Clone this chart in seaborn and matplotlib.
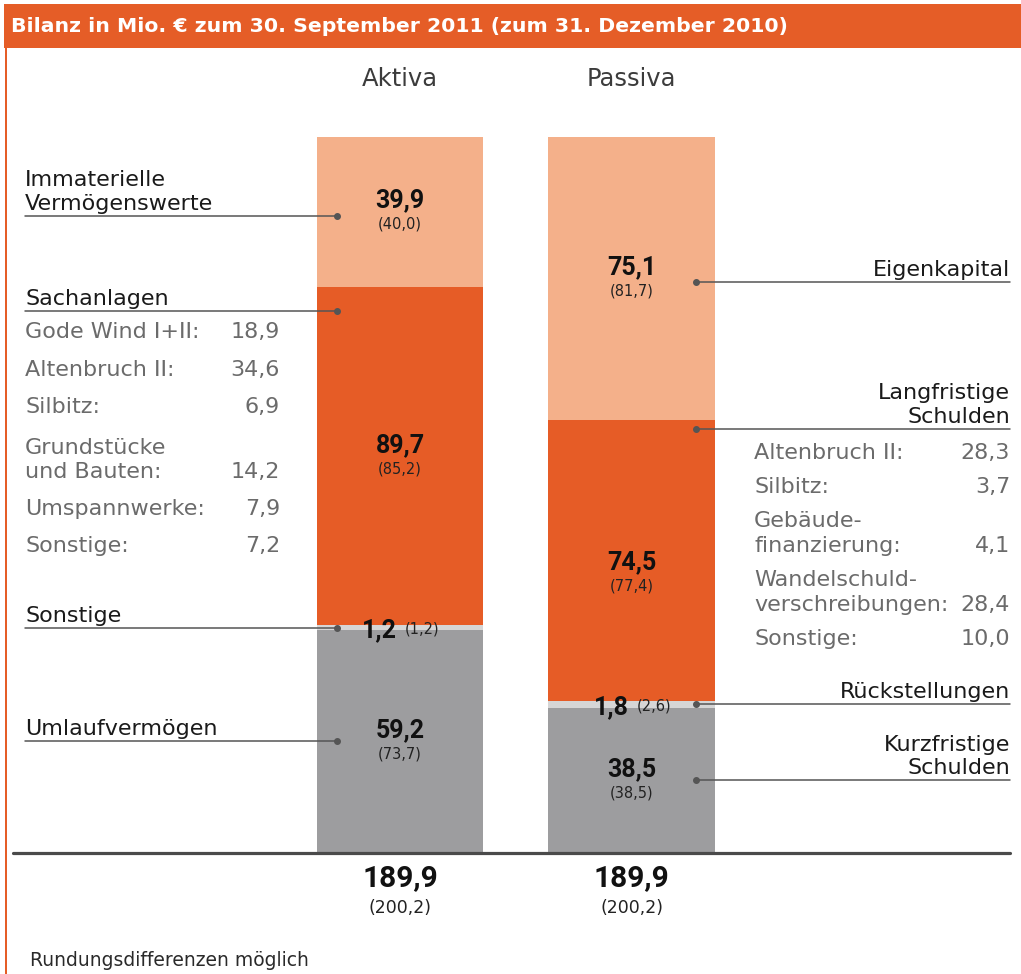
import numpy as np
import pandas as pd
import matplotlib
matplotlib.use("Agg")
import matplotlib.pyplot as plt
import matplotlib.transforms as mtransforms
import seaborn as sns

# balance sheet data (Mio. EUR), 30.09.2011 and in brackets 31.12.2010
sides = ["Aktiva", "Passiva"]
aktiva_items = ["Umlaufvermögen", "Sonstige", "Sachanlagen", "Immaterielle\nVermögenswerte"]
aktiva_values = [59.2, 1.2, 89.7, 39.9]
aktiva_prev = [73.7, 1.2, 85.2, 40.0]
passiva_items = ["Kurzfristige\nSchulden", "Rückstellungen", "Langfristige\nSchulden", "Eigenkapital"]
passiva_values = [38.5, 1.8, 74.5, 75.1]
passiva_prev = [38.5, 2.6, 77.4, 81.7]
totals = ["189,9", "189,9"]
totals_prev = ["(200,2)", "(200,2)"]

sach_labels = ["Gode Wind I+II:", "Altenbruch II:", "Silbitz:", "Grundstücke\nund Bauten:", "Umspannwerke:", "Sonstige:"]
sach_values = ["18,9", "34,6", "6,9", "14,2", "7,9", "7,2"]
lang_labels = ["Altenbruch II:", "Silbitz:", "Gebäude-\nfinanzierung:", "Wandelschuld-\nverschreibungen:", "Sonstige:"]
lang_values = ["28,3", "3,7", "4,1", "28,4", "10,0"]

layer_colors = ["#9d9d9f", "#d6d6d6", "#e65c26", "#f4b08a"]
ORANGE = "#e55d27"
NUM_FONT = ["Roboto", "DejaVu Sans"]

W, H = 1021, 974


def fx(px):
    return px / W


def fy(py):
    return 1 - py / H


def de(v):
    return f"{v:.1f}".replace(".", ",")


sns.set_theme(style="white")
plt.rcParams["font.family"] = ["DejaVu Sans"]

rows = []
for side, vals in zip(sides, [aktiva_values, passiva_values]):
    tops = np.cumsum(vals)
    for layer, top in enumerate(tops):
        rows.append({"side": side, "layer": layer, "top": top})
df = pd.DataFrame(rows)

fig = plt.figure(figsize=(W / 100, H / 100), dpi=100)
fig.patch.set_facecolor("white")
ax = fig.add_axes([fx(13), 1 - 853 / H, fx(1010) - fx(13), 716 / H])

# stacked bars: draw cumulative heights from top layer down
for layer in range(3, -1, -1):
    sub = df[df["layer"] == layer]
    sns.barplot(data=sub, x="side", y="top", order=sides, color=layer_colors[layer],
                saturation=1, width=0.721, linewidth=0, ax=ax)

ax.set_xlim(-1.672, 2.635)
ax.set_ylim(0, 189.9)
ax.axis("off")
ax.axhline(0, color="#4a4a4a", lw=2.3, clip_on=False, zorder=5)

blend = mtransforms.blended_transform_factory(fig.transFigure, ax.transData)
xblend = mtransforms.blended_transform_factory(ax.transData, fig.transFigure)

# header band and left border
fig.patches.append(plt.Rectangle((fx(4), fy(48)), 1 - fx(4), fy(4) - fy(48), transform=fig.transFigure,
                                 facecolor=ORANGE, edgecolor="none"))
fig.patches.append(plt.Rectangle((fx(5), 0), fx(2), fy(48), transform=fig.transFigure,
                                 facecolor=ORANGE, edgecolor="none"))
fig.text(fx(11), fy(27), "Bilanz in Mio. € zum 30. September 2011 (zum 31. Dezember 2010)",
         color="white", fontsize=14.7, fontweight="bold", va="center", ha="left")

for i, s in enumerate(sides):
    ax.text(i, fy(79), s, transform=xblend, color="#3c3c3c", fontsize=17.5, ha="center", va="center")

# values inside bars
label_shift = {("Passiva", 2): -3.5}
for i, (side, vals, prevs) in enumerate(zip(sides, [aktiva_values, passiva_values], [aktiva_prev, passiva_prev])):
    bottoms = np.concatenate([[0], np.cumsum(vals)[:-1]])
    for layer, (v, p, b) in enumerate(zip(vals, prevs, bottoms)):
        yc = b + v / 2 + label_shift.get((side, layer), 0)
        if v < 5:
            ax.annotate(de(v), (i, yc), xytext=(-2, 0), textcoords="offset points", ha="right",
                        va="center_baseline", fontsize=18, fontweight="bold", color="#111111",
                        family=NUM_FONT)
            ax.annotate(f"({de(p)})", (i, yc), xytext=(3.5, 0), textcoords="offset points", ha="left",
                        va="center_baseline", fontsize=10.5, color="#222222")
        else:
            ax.annotate(de(v), (i, yc), xytext=(0, 3), textcoords="offset points", ha="center",
                        va="baseline", fontsize=18, fontweight="bold", color="#111111", family=NUM_FONT)
            ax.annotate(f"({de(p)})", (i, yc), xytext=(0, -3.5), textcoords="offset points", ha="center",
                        va="top", fontsize=10.5, color="#222222")

# totals below the baseline
for i in range(2):
    ax.annotate(totals[i], (i, 0), xytext=(0, -18), textcoords="offset points", ha="center",
                va="center", fontsize=21.5, fontweight="bold", color="#111111", family=NUM_FONT)
    ax.annotate(totals_prev[i], (i, 0), xytext=(0, -39.5), textcoords="offset points", ha="center",
                va="center", fontsize=12.5, color="#222222")


def leader(y, x0, x1, dot_x):
    ax.plot([x0, x1], [y, y], color="#555555", lw=1.1, transform=blend, clip_on=False, zorder=6)
    ax.plot([dot_x], [y], "o", color="#555555", ms=4, transform=blend, clip_on=False, zorder=6)


A = np.cumsum(aktiva_values)
P = np.cumsum(passiva_values)
# leader heights (data units) for each category label
a_lead = [A[0] / 2, (A[0] + A[1]) / 2, A[2] - 6.3, (A[2] + A[3]) / 2 - 1]
p_lead = [P[0] / 2, (P[0] + P[1]) / 2, P[2] - 2.3, (P[2] + P[3]) / 2 - 1]
lift = mtransforms.ScaledTranslation(0, 6 / 100, fig.dpi_scale_trans)

for name, y in zip(aktiva_items, a_lead):
    leader(y, fx(25), fx(337), fx(337))
    ax.text(fx(25), y, name, transform=blend + lift, ha="left", va="baseline", fontsize=16,
            color="#1a1a1a", linespacing=1.22)

for name, y in zip(passiva_items, p_lead):
    leader(y, fx(696), fx(1010), fx(696))
    ax.text(fx(1010), y, name, transform=blend + lift, ha="right", va="baseline", fontsize=16,
            color="#1a1a1a", linespacing=1.22, multialignment="right")

# breakdown lists
sach_y = [338, 376, 413, 478, 515, 552]
for lab, val, yb in zip(sach_labels, sach_values, sach_y):
    fig.text(fx(25), fy(yb), lab, ha="left", va="baseline", fontsize=16, color="#6b6b6b", linespacing=1.22)
    fig.text(fx(280), fy(yb), val, ha="right", va="baseline", fontsize=16, color="#6b6b6b")

lang_y = [459, 493, 552, 611, 645]
for lab, val, yb in zip(lang_labels, lang_values, lang_y):
    fig.text(fx(754), fy(yb), lab, ha="left", va="baseline", fontsize=16, color="#6b6b6b", linespacing=1.3)
    fig.text(fx(1010), fy(yb), val, ha="right", va="baseline", fontsize=16, color="#6b6b6b")

fig.text(fx(30), fy(966), "Rundungsdifferenzen möglich", ha="left", va="baseline", fontsize=13.5, color="#2a2a2a")

fig.savefig("out.png", dpi=100, facecolor="white")
